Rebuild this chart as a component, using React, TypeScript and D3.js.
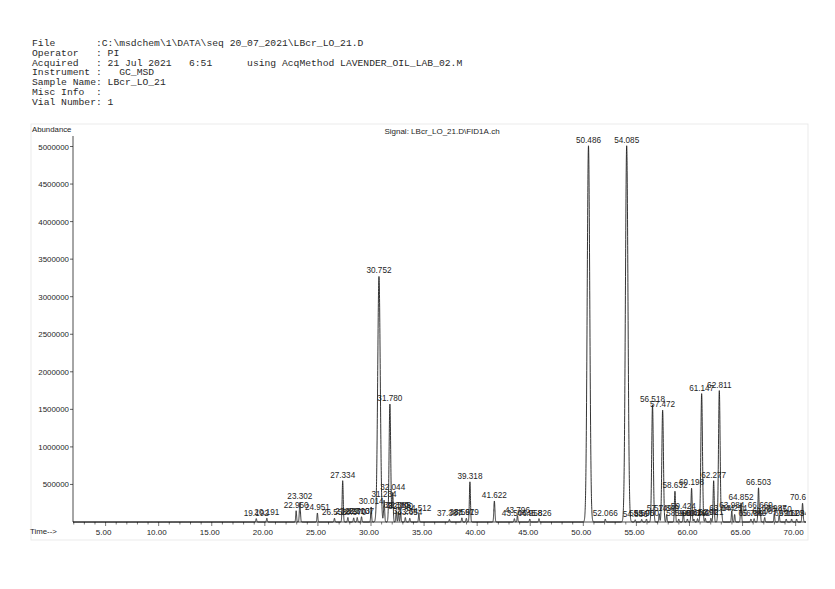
import React from "react";
import * as d3 from "d3";

// ---- Header text ----
const headerLines = [
  "File       :C:\\msdchem\\1\\DATA\\seq 20_07_2021\\LBcr_LO_21.D",
  "Operator   : PI",
  "Acquired   : 21 Jul 2021   6:51      using AcqMethod LAVENDER_OIL_LAB_02.M",
  "Instrument :   GC_MSD",
  "Sample Name: LBcr_LO_21",
  "Misc Info  :",
  "Vial Number: 1",
];

const signalTitle = "Signal: LBcr_LO_21.D\\FID1A.ch";

// ---- Axis ticks ----
const xTickValues = [5, 10, 15, 20, 25, 30, 35, 40, 45, 50, 55, 60, 65, 70];
const yTickValues = [500000, 1000000, 1500000, 2000000, 2500000, 3000000, 3500000, 4000000, 4500000, 5000000];

// ---- Peaks (retention time, min) and heights (abundance) ----
const peakTimes = [
  19.192, 20.191, 22.95, 23.302, 24.951, 26.558, 27.334, 27.823, 28.37, 28.703, 29.107,
  30.014, 30.752, 31.234, 31.78, 32.044, 32.38, 32.585, 32.79, 33.234, 33.654, 34.512,
  37.387, 38.561, 38.979, 39.318, 41.622, 43.506, 43.796, 44.958, 45.826,
  50.486, 52.066, 54.085, 54.886, 55.5, 55.95, 56.518, 57.149, 57.472, 57.849,
  58.632, 58.99, 59.424, 59.803, 60.198, 60.42, 60.762, 61.147, 61.491, 62.021,
  62.277, 62.811, 63.044, 63.984, 64.254, 64.852, 65.789, 66.089, 66.503, 66.669,
  67.087, 67.987, 68.45, 69.111, 69.623, 70.094, 70.651,
];
const peakHeights = [
  45000, 50000, 150000, 260000, 120000, 50000, 550000, 60000, 55000, 60000, 70000,
  200000, 3270000, 290000, 1570000, 390000, 150000, 140000, 130000, 60000, 50000, 110000,
  35000, 55000, 50000, 535000, 280000, 45000, 85000, 40000, 45000,
  5010000, 40000, 5010000, 30000, 35000, 40000, 1560000, 110000, 1490000, 100000,
  410000, 40000, 130000, 40000, 450000, 40000, 45000, 1710000, 50000, 50000,
  550000, 1750000, 110000, 150000, 100000, 255000, 40000, 45000, 455000, 150000,
  60000, 110000, 90000, 40000, 40000, 40000, 250000,
];

const W = 835;
const H = 589;
const X0 = 73;
const X1 = 806;
const Y0 = 522;

export default function App() {
  const x = d3.scaleLinear().domain([30, 70]).range([371, 371 + 40 * 10.616]);
  const tMin = x.invert(X0);
  const tMax = x.invert(X1);
  const y = d3.scaleLinear().domain([0, 5000000]).range([Y0, Y0 - 10 * 37.55]);

  const sigmaOf = (h: number) => (h > 3000000 ? 0.12 : h > 1000000 ? 0.075 : h > 200000 ? 0.05 : 0.04);

  const samples: [number, number][] = [];
  for (let t = tMin; t <= tMax; t += 0.005) {
    let v = 0;
    for (let i = 0; i < peakTimes.length; i++) {
      const s = sigmaOf(peakHeights[i]);
      const d = (t - peakTimes[i]) / s;
      if (Math.abs(d) < 8) v += peakHeights[i] * Math.exp(-0.5 * d * d);
    }
    samples.push([t, v]);
  }
  const line = d3
    .line<[number, number]>()
    .x((d) => x(d[0]))
    .y((d) => y(d[1]));

  const minorTicks = d3.range(2, 71, 1).filter((t) => x(t) >= X0 && x(t) <= X1);

  const sans = "'Liberation Sans', Arial, sans-serif";
  const ink = "#1e1e1e";

  return (
    <svg width={W} height={H} style={{ display: "block", position: "absolute", left: 0, top: 0, background: "#fff" }}>
      <defs>
        <clipPath id="plotclip">
          <rect x={X0} y={120} width={X1 - X0} height={Y0 - 120 + 1} />
        </clipPath>
      </defs>
      {/* header */}
      <g fontFamily="'Liberation Mono', 'Courier New', monospace" fontSize={9.7} fill="#2a2a2a">
        {headerLines.map((l, i) => (
          <text key={i} x={32} y={46 + i * 9.75} style={{ whiteSpace: "pre" }} xmlSpace="preserve">
            {l}
          </text>
        ))}
      </g>

      {/* faint frame */}
      <rect x={31} y={124} width={777} height={416} fill="none" stroke="#e6e6e6" strokeWidth={0.8} />

      <g fontFamily={sans} fill={ink}>
        <text x={32} y={132} fontSize={7.8}>Abundance</text>
        <text x={442} y={134} fontSize={8} textAnchor="middle">{signalTitle}</text>
        <text x={30} y={534} fontSize={7.8}>Time--&gt;</text>
      </g>

      {/* axes */}
      <line x1={X0} x2={X0} y1={136} y2={Y0} stroke={ink} strokeWidth={0.8} />
      <line x1={X0} x2={X1} y1={Y0} y2={Y0} stroke={ink} strokeWidth={0.8} />
      {yTickValues.map((v) => (
        <g key={v}>
          <line x1={X0 - 3} x2={X0} y1={y(v)} y2={y(v)} stroke={ink} strokeWidth={0.7} />
          <text x={X0 - 4} y={y(v) + 3} fontSize={7.9} fontFamily={sans} textAnchor="end" fill={ink}>
            {v}
          </text>
        </g>
      ))}
      {minorTicks.map((t) => (
        <line key={t} x1={x(t)} x2={x(t)} y1={Y0} y2={Y0 + (t % 5 === 0 ? 4 : 2.5)} stroke={ink} strokeWidth={0.6} />
      ))}
      {xTickValues.map((t) => (
        <text key={t} x={x(t) - 2} y={Y0 + 13} fontSize={8} fontFamily={sans} textAnchor="middle" fill={ink}>
          {t.toFixed(2)}
        </text>
      ))}

      {/* trace and labels */}
      <g clipPath="url(#plotclip)">
        <path d={line(samples) || ""} fill="none" stroke={ink} strokeWidth={0.9} />
        {peakTimes.map((t, i) => (
          <text
            key={i}
            x={x(t)}
            y={y(peakHeights[i]) - 3}
            fontSize={8.2}
            fontFamily={sans}
            textAnchor="middle"
            fill={ink}
          >
            {t.toFixed(3)}
          </text>
        ))}
      </g>
    </svg>
  );
}
